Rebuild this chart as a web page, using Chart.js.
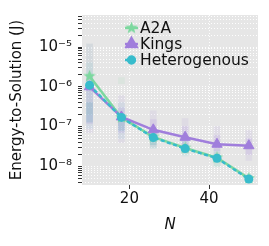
<!DOCTYPE html>
<html>
<head>
<meta charset="utf-8">
<script src="https://cdn.jsdelivr.net/npm/chart.js@4.4.0/dist/chart.umd.min.js"></script>
<style>
  html, body { margin: 0; padding: 0; background: #fff; }
  #wrap { width: 269px; height: 246px; }
</style>
</head>
<body>
<div id="wrap"><canvas id="chart" width="269" height="246"></canvas></div>
<script>
// --- data ---
const nValues = [10, 18, 26, 34, 42, 50];
const a2aEnergy = [1.85e-6, 1.7e-7, 5.5e-8, 2.9e-8, 1.65e-8, 5.0e-9];
const kingsEnergy = [1.0e-6, 1.75e-7, 8.3e-8, 5.4e-8, 3.6e-8, 3.3e-8];
const heteroEnergy = [1.1e-6, 1.7e-7, 5.3e-8, 2.8e-8, 1.6e-8, 4.8e-9];

// faint spread of individual runs behind each point [low, high]
const kingsSpreadOuter = [[7e-8, 1.2e-5], [4e-8, 6e-7], [3e-8, 2.5e-7], [2.2e-8, 1.6e-7], [1.8e-8, 1e-7], [1.4e-8, 8e-8]];
const kingsSpreadInner = [[1.2e-7, 2e-6], [7e-8, 3e-7], [5e-8, 1.5e-7], [3.5e-8, 1e-7], [2.5e-8, 6e-8], [2e-8, 5e-8]];
const a2aSpread = [[2e-7, 1.2e-5], [1.2e-6, 1.7e-6], [3e-8, 7e-8], [2e-8, 4e-8], [1e-8, 2.2e-8], [4e-9, 6e-9]];
const heteroSpreadOuter = [[9e-8, 4e-6], [5e-8, 4e-7], [2.8e-8, 9e-8], [1.8e-8, 4.5e-8], [1e-8, 2.6e-8], [4e-9, 6e-9]];
const heteroSpreadInner = [[1.3e-7, 4e-7], [8e-8, 2e-7], [3.5e-8, 6e-8], [2.2e-8, 3.5e-8], [1.3e-8, 2e-8], [4.5e-9, 5.5e-9]];

const xTicks = [20, 40];
const yDecades = [-9, -8, -7, -6, -5];
const yLabelled = { '-8': '10⁻⁸', '-7': '10⁻⁷', '-6': '10⁻⁶', '-5': '10⁻⁵' };

const GREEN = '#7dd89f';
const PURPLE = '#a07edc';
const TEAL = '#38bccc';
const FONT = 'DejaVu Sans';

function makeStar(color, size) {
    const c = document.createElement('canvas');
    c.width = size; c.height = size;
    const g = c.getContext('2d');
    const cx = size / 2, cy = size / 2, ro = size / 2, ri = ro * 0.42;
    g.beginPath();
    for (let i = 0; i < 10; i++) {
        const r = i % 2 === 0 ? ro : ri;
        const a = -Math.PI / 2 + i * Math.PI / 5;
        g.lineTo(cx + r * Math.cos(a), cy + r * Math.sin(a));
    }
    g.closePath();
    g.fillStyle = color;
    g.fill();
    return c;
}
const starImg = makeStar(GREEN, 13);

function points(ys) {
    return nValues.map((n, i) => ({ x: n, y: ys[i] }));
}

function spreadBars(ranges, color, order) {
    return {
        type: 'bar',
        data: nValues.map((n, i) => ({ x: n, y: ranges[i] })),
        backgroundColor: color,
        borderWidth: 0,
        barThickness: 6,
        grouped: false,
        order: order
    };
}

const plotBackground = {
    id: 'plotBackground',
    beforeDraw(chart) {
        const { ctx, chartArea: a } = chart;
        ctx.save();
        ctx.fillStyle = '#e6e6e6';
        ctx.fillRect(a.left, a.top, a.right - a.left, a.bottom - a.top);
        ctx.restore();
    }
};

// mpl-like legend: short line with marker, inside the plot
const insideLegend = {
    id: 'insideLegend',
    afterDraw(chart) {
        const { ctx, chartArea: a } = chart;
        const items = chart.data.datasets.filter(d => d.legend);
        const x0 = a.left + 43, lineLen = 13;
        ctx.save();
        items.forEach((d, i) => {
            const y = a.top + 13 + i * 16;
            ctx.strokeStyle = d.borderColor;
            ctx.lineWidth = 2.4;
            ctx.setLineDash(d.borderDash || []);
            ctx.beginPath();
            ctx.moveTo(x0, y);
            ctx.lineTo(x0 + lineLen, y);
            ctx.stroke();
            ctx.setLineDash([]);
            ctx.fillStyle = d.pointBackgroundColor;
            ctx.strokeStyle = d.pointBackgroundColor;
            Chart.helpers.drawPoint(ctx, {
                pointStyle: d.pointStyle, radius: d.legendRadius, borderWidth: 1, rotation: 0
            }, x0 + lineLen / 2, y);
            ctx.fillStyle = '#111';
            ctx.font = '15.5px "' + FONT + '"';
            ctx.textBaseline = 'middle';
            ctx.textAlign = 'left';
            ctx.fillText(d.label, x0 + lineLen + 2, y + 1);
        });
        ctx.restore();
    }
};

document.addEventListener('DOMContentLoaded', () => {
    const ctx = document.getElementById('chart').getContext('2d');
    new Chart(ctx, {
        type: 'line',
        data: {
            datasets: [
                spreadBars(kingsSpreadOuter, 'rgba(160,126,220,0.10)', 10),
                spreadBars(a2aSpread, 'rgba(125,216,159,0.10)', 10),
                spreadBars(heteroSpreadOuter, 'rgba(56,188,204,0.08)', 10),
                spreadBars(kingsSpreadInner, 'rgba(160,126,220,0.15)', 9),
                spreadBars(heteroSpreadInner, 'rgba(56,160,170,0.18)', 9),
                {
                    label: 'A2A', legend: true, data: points(a2aEnergy),
                    borderColor: GREEN, borderWidth: 2.5,
                    pointStyle: starImg, pointBackgroundColor: GREEN, legendRadius: 5,
                    order: 3
                },
                {
                    label: 'Kings', legend: true, data: points(kingsEnergy),
                    borderColor: PURPLE, borderWidth: 2.5,
                    pointStyle: 'triangle', pointRadius: 6, pointBackgroundColor: PURPLE,
                    pointBorderColor: PURPLE, pointBorderWidth: 1, legendRadius: 6,
                    order: 2
                },
                {
                    label: 'Heterogenous', legend: true, data: points(heteroEnergy),
                    borderColor: TEAL, borderWidth: 2.4, borderDash: [4, 2.5],
                    pointStyle: 'circle', pointRadius: 4.5, pointBackgroundColor: TEAL,
                    pointBorderColor: TEAL, pointBorderWidth: 0, legendRadius: 3.5,
                    order: 1
                }
            ]
        },
        options: {
            responsive: false,
            animation: false,
            events: [],
            layout: { padding: { top: 12, right: 11, left: 0, bottom: 0 } },
            plugins: { legend: { display: false }, tooltip: { enabled: false } },
            scales: {
                x: {
                    type: 'linear', min: 8.1, max: 52.3, offset: false,
                    afterBuildTicks: s => { s.ticks = xTicks.map(v => ({ value: v })); },
                    afterFit: s => { s.height = 61; },
                    ticks: { color: '#111', font: { family: FONT, size: 15 }, padding: 1, maxRotation: 0 },
                    grid: {
                        offset: false, color: 'rgba(255,255,255,0.95)', lineWidth: 1,
                        tickLength: 4, tickColor: '#333', drawTicks: true
                    },
                    border: { display: false, dash: [1, 2] },
                    title: {
                        display: true, text: 'N', color: '#111',
                        font: { family: FONT, size: 15, style: 'italic' }, padding: { top: 0, bottom: 12 }
                    }
                },
                y: {
                    type: 'logarithmic', min: 3.4e-9, max: 6.4e-5,
                    afterBuildTicks: s => {
                        const t = [];
                        yDecades.forEach(e => {
                            for (let m = 1; m <= 9; m++) {
                                const v = m * Math.pow(10, e);
                                if (v >= s.min && v <= s.max) t.push({ value: v, major: m === 1, exp: e });
                            }
                        });
                        s.ticks = t;
                    },
                    afterFit: s => { s.width = 82; },
                    ticks: {
                        autoSkip: false, color: '#111', font: { family: FONT, size: 15 }, padding: 6,
                        callback: function (value, index, ticks) {
                            const t = ticks[index];
                            return t.major ? (yLabelled[String(t.exp)] || '') : '';
                        }
                    },
                    grid: {
                        color: 'rgba(255,255,255,0.95)', lineWidth: 1, tickLength: 4,
                        tickColor: '#333', drawTicks: true
                    },
                    border: { display: false, dash: [1, 2] },
                    title: {
                        display: true, text: 'Energy-to-Solution (J)', color: '#111',
                        font: { family: FONT, size: 15 }, padding: { top: 8, bottom: 0 }
                    }
                }
            }
        },
        plugins: [plotBackground, insideLegend]
    });
});
</script>
</body>
</html>
